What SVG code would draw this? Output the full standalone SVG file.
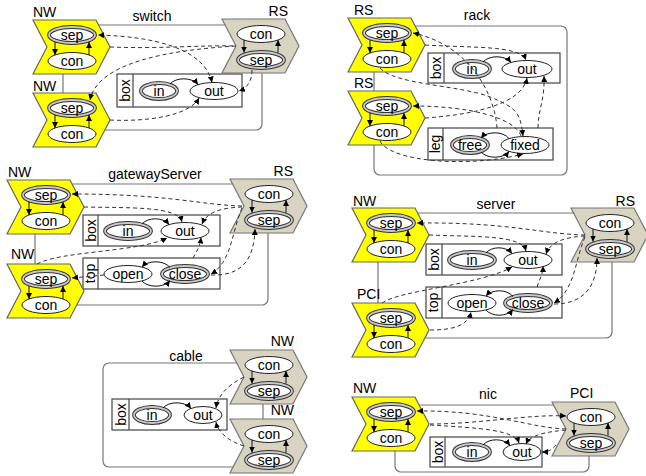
<svg xmlns="http://www.w3.org/2000/svg" xmlns:xlink="http://www.w3.org/1999/xlink" width="646" height="476" viewBox="0 0 646 476">
<style>
text{font-family:"Liberation Sans",Arial,sans-serif;font-size:14px;fill:#000}
.t{text-anchor:middle}
.en{text-anchor:end}
.fr{fill:none;stroke:#777;stroke-width:1.2}
.cy{fill:#ffff00;stroke:#666;stroke-width:1.2}
.ct{fill:#d9d4c1;stroke:#777;stroke-width:1.2}
.e{fill:#fff;stroke:#222;stroke-width:1}
.d1{fill:#fff;stroke:#333;stroke-width:3.8}
.d2{fill:none;stroke:#c8c8c8;stroke-width:1.8}
.bx{fill:#fff;stroke:#444;stroke-width:1.2}
.s{fill:none;stroke:#111;stroke-width:1;marker-end:url(#ah)}
.dsh{fill:none;stroke:#333;stroke-width:1;stroke-dasharray:4 3;marker-end:url(#ah)}
.dn{fill:none;stroke:#333;stroke-width:1;stroke-dasharray:4 3}
.both{marker-start:url(#ah)}
</style>
<defs>
<marker id="ah" viewBox="0 0 10 10" refX="10" refY="5" markerWidth="6" markerHeight="6" markerUnits="userSpaceOnUse" orient="auto-start-reverse"><path d="M0,0L10,5L0,10z" fill="#000"/></marker>
<polygon id="chev" points="0,0 63,0 77,27 63,54 0,54 14,27"/>
<g id="yIn">
<ellipse class="d1" cx="39" cy="15" rx="23" ry="8"/><ellipse class="d2" cx="39" cy="15" rx="23" ry="8"/>
<text class="t" x="39" y="20">sep</text>
<ellipse class="e" cx="39" cy="41" rx="24" ry="8.5"/>
<text class="t" x="39" y="46">con</text>
<path class="s" d="M22,22V35"/><path class="s" d="M56,35V22"/>
</g>
<g id="tIn">
<ellipse class="e" cx="39" cy="15" rx="24" ry="8.5"/>
<text class="t" x="39" y="20">con</text>
<ellipse class="d1" cx="39" cy="41" rx="23" ry="8"/><ellipse class="d2" cx="39" cy="41" rx="23" ry="8"/>
<text class="t" x="39" y="46">sep</text>
<path class="s" d="M22,21V33.5"/><path class="s" d="M56,33.5V21"/>
</g>
</defs>

<!-- panel frames and titles -->
<g id="switch"><rect class="fr" x="63" y="25" width="199" height="105" rx="6"/><text class="t" x="152" y="21">switch</text></g>
<g id="rack"><rect class="fr" x="374" y="26" width="193" height="149" rx="6"/><text class="t" x="477" y="20">rack</text></g>
<g id="gatewayServer"><rect class="fr" x="35" y="184" width="233" height="121" rx="6"/><text class="t" x="155" y="179">gatewayServer</text></g>
<g id="server"><rect class="fr" x="378" y="213" width="234" height="125" rx="6"/><text class="t" x="496" y="209">server</text></g>
<g id="cable"><rect class="fr" x="103" y="363" width="160" height="104" rx="6"/><text class="t" x="186" y="361">cable</text></g>
<g id="nic"><rect class="fr" x="395" y="405" width="194" height="67" rx="6"/><text class="t" x="488" y="399">nic</text></g>

<!-- boxes -->
<g id="switch-box">
<rect class="bx" x="117" y="74" width="125" height="33"/><path class="bx" d="M133,74V107"/>
<text class="t" transform="translate(130,90.5) rotate(-90)">box</text>
<ellipse class="d1" cx="159" cy="91" rx="18" ry="8"/><ellipse class="d2" cx="159" cy="91" rx="18" ry="8"/><text class="t" x="159" y="96">in</text>
<ellipse class="e" cx="214" cy="91" rx="24" ry="8.5"/><text class="t" x="214" y="96">out</text>
<path class="s" d="M170,84C176,77 192,77 198,84.5"/>
</g>
<g id="rack-box">
<rect class="bx" x="428" y="53" width="132" height="30"/><path class="bx" d="M444,53V83"/>
<text class="t" transform="translate(441,68) rotate(-90)">box</text>
<ellipse class="d1" cx="472" cy="69" rx="18" ry="8"/><ellipse class="d2" cx="472" cy="69" rx="18" ry="8"/><text class="t" x="472" y="74">in</text>
<ellipse class="e" cx="527" cy="69" rx="25" ry="8.5"/><text class="t" x="527" y="74">out</text>
<path class="s" d="M483,62C489,55 505,55 511,62.5"/>
</g>
<g id="rack-leg">
<rect class="bx" x="428" y="128" width="125" height="32"/><path class="bx" d="M443,128V160"/>
<text class="t" transform="translate(440,144) rotate(-90)">leg</text>
<ellipse class="d1" cx="470" cy="145" rx="18" ry="8"/><ellipse class="d2" cx="470" cy="145" rx="18" ry="8"/><text class="t" x="470" y="150">free</text>
<ellipse class="e" cx="525" cy="145" rx="24" ry="8.5"/><text class="t" x="525" y="150">fixed</text>
<path class="s" d="M509,138.5C503,131 487,131 481,138"/>
<path class="s" d="M481,152C487,159 503,159 509,151.5"/>
</g>
<g id="gateway-box">
<rect class="bx" x="83" y="215" width="137" height="31"/><path class="bx" d="M98,215V246"/>
<text class="t" transform="translate(95.5,230.5) rotate(-90)">box</text>
<ellipse class="d1" cx="128" cy="231" rx="23" ry="8"/><ellipse class="d2" cx="128" cy="231" rx="23" ry="8"/><text class="t" x="128" y="236">in</text>
<ellipse class="e" cx="185" cy="231" rx="24" ry="8.5"/><text class="t" x="185" y="236">out</text>
<path class="s" d="M142,224C148,217 163,217 169,224.5"/>
</g>
<g id="gateway-top">
<rect class="bx" x="83" y="258" width="137" height="31"/><path class="bx" d="M98,258V289"/>
<text class="t" transform="translate(94.5,273.5) rotate(-90)">top</text>
<ellipse class="e" cx="128" cy="274" rx="24" ry="8.5"/><text class="t" x="128" y="279">open</text>
<ellipse class="d1" cx="185" cy="274" rx="23" ry="8"/><ellipse class="d2" cx="185" cy="274" rx="23" ry="8"/><text class="t" x="185" y="279">close</text>
<path class="s" d="M170,267.5C164,260 148,260 142,267"/>
<path class="s" d="M142,281C148,288 164,288 170,280.5"/>
</g>
<g id="server-box">
<rect class="bx" x="426" y="244" width="136" height="31"/><path class="bx" d="M442,244V275"/>
<text class="t" transform="translate(439,259.5) rotate(-90)">box</text>
<ellipse class="d1" cx="472" cy="260" rx="23" ry="8"/><ellipse class="d2" cx="472" cy="260" rx="23" ry="8"/><text class="t" x="472" y="265">in</text>
<ellipse class="e" cx="528" cy="260" rx="24" ry="8.5"/><text class="t" x="528" y="265">out</text>
<path class="s" d="M486,253C492,246 506,246 512,253.5"/>
</g>
<g id="server-top">
<rect class="bx" x="426" y="287" width="136" height="31"/><path class="bx" d="M442,287V318"/>
<text class="t" transform="translate(438,302.5) rotate(-90)">top</text>
<ellipse class="e" cx="472" cy="303" rx="24" ry="8.5"/><text class="t" x="472" y="308">open</text>
<ellipse class="d1" cx="528" cy="303" rx="23" ry="8"/><ellipse class="d2" cx="528" cy="303" rx="23" ry="8"/><text class="t" x="528" y="308">close</text>
<path class="s" d="M513,296.5C507,289 492,289 486,296"/>
<path class="s" d="M486,310C492,317 507,317 513,309.5"/>
</g>
<g id="cable-box">
<rect class="bx" x="112" y="399" width="115" height="31"/><path class="bx" d="M129,399V430"/>
<text class="t" transform="translate(125.5,414.5) rotate(-90)">box</text>
<ellipse class="d1" cx="152" cy="415" rx="18" ry="8"/><ellipse class="d2" cx="152" cy="415" rx="18" ry="8"/><text class="t" x="152" y="420">in</text>
<ellipse class="e" cx="203" cy="415" rx="19" ry="8.5"/><text class="t" x="203" y="420">out</text>
<path class="s" d="M163,408C169,401 185,401 191,408.5"/>
</g>
<g id="nic-box">
<rect class="bx" x="430" y="437" width="112" height="30"/><path class="bx" d="M445,437V467"/>
<text class="t" transform="translate(442.5,452) rotate(-90)">box</text>
<ellipse class="d1" cx="472" cy="452" rx="18" ry="8"/><ellipse class="d2" cx="472" cy="452" rx="18" ry="8"/><text class="t" x="472" y="457">in</text>
<ellipse class="e" cx="522" cy="452" rx="19" ry="8.5"/><text class="t" x="522" y="457">out</text>
<path class="s" d="M483,445C489,438 504,438 510,445.5"/>
</g>

<!-- port chevrons -->
<g id="switch-NW1" transform="translate(33,20)"><use href="#chev" class="cy"/><use href="#yIn"/><text x="0" y="-3">NW</text></g>
<g id="switch-NW2" transform="translate(33,93)"><use href="#chev" class="cy"/><use href="#yIn"/><text x="0" y="-2">NW</text></g>
<g id="switch-RS" transform="translate(222,19)"><use href="#chev" class="ct"/><use href="#tIn"/><text class="en" x="66" y="-3">RS</text></g>

<g id="rack-RS1" transform="translate(348,18)"><use href="#chev" class="cy"/><use href="#yIn"/><text x="6" y="-3">RS</text></g>
<g id="rack-RS2" transform="translate(348,91)"><use href="#chev" class="cy"/><use href="#yIn"/><text x="6" y="-3">RS</text></g>

<g id="gateway-NW1" transform="translate(7,180)"><use href="#chev" class="cy"/><use href="#yIn"/><text x="1" y="-3">NW</text></g>
<g id="gateway-NW2" transform="translate(7,264)"><use href="#chev" class="cy"/><use href="#yIn"/><text x="4" y="-5">NW</text></g>
<g id="gateway-RS" transform="translate(230,179)"><use href="#chev" class="ct"/><use href="#tIn"/><text class="en" x="63" y="-3">RS</text></g>

<g id="server-NW" transform="translate(352,208)"><use href="#chev" class="cy"/><use href="#yIn"/><text x="1" y="-2">NW</text></g>
<g id="server-PCI" transform="translate(352,303)"><use href="#chev" class="cy"/><use href="#yIn"/><text x="5" y="-4">PCI</text></g>
<g id="server-RS" transform="translate(571,208)"><use href="#chev" class="ct"/><use href="#tIn"/><text class="en" x="64" y="-2">RS</text></g>

<g id="cable-NW1" transform="translate(230,350)"><use href="#chev" class="ct"/><use href="#tIn"/><text class="en" x="64" y="-4">NW</text></g>
<g id="cable-NW2" transform="translate(230,419)"><use href="#chev" class="ct"/><use href="#tIn"/><text class="en" x="64" y="-4">NW</text></g>

<g id="nic-NW" transform="translate(352,397)"><use href="#chev" class="cy"/><use href="#yIn"/><text x="1" y="-4">NW</text></g>
<g id="nic-PCI" transform="translate(552,402)"><use href="#chev" class="ct"/><use href="#tIn"/><text x="18" y="-4">PCI</text></g>

<!-- connectors -->
<g id="connectors">
<path class="dsh both" d="M212,82.5C206,55 170,37 98,35"/>
<path class="dn" d="M110,47C160,49 200,45 236,46"/>
<path class="dsh" d="M236,46C170,50 98,62 90,100"/>
<path class="dsh" d="M110,120C150,122 190,115 199,98"/>
<path class="dsh" d="M252,70C252,80 248,88 239,91"/>

<path class="dsh" d="M497,128C495,95 470,45 413,33"/>
<path class="dsh" d="M425,45C470,48 520,45 526,60"/>
<path class="dsh" d="M380,68C395,85 460,85 490,97S520,115 523,136"/>
<path class="dsh" d="M521,136C515,118 470,106 413,106"/>
<path class="dsh" d="M425,118C470,115 522,105 527,78"/>
<path class="dsh" d="M538,128C538,110 545,100 544,76"/>
<path class="dsh" d="M380,141C390,162 470,168 523,154"/>

<path class="dsh" d="M242,206C200,205 170,194 72,194"/>
<path class="dsh" d="M84,207C130,208 178,206 182,222"/>
<path class="dsh" d="M242,207C220,208 207,212 202,224"/>
<path class="dsh" d="M242,208C232,230 232,262 211,274"/>
<path class="dsh" d="M37,264C60,251 140,252 167,238"/>
<path class="dsh" d="M193,258C196,252 200,248 201,237.5"/>
<path class="dsh" d="M211,275C240,276 254,262 255,229"/>
<path class="dsh" d="M104,275L72,278"/>

<path class="dsh" d="M585,235C540,234 510,222 417,223"/>
<path class="dsh" d="M429,235C480,237 522,235 526,251"/>
<path class="dsh" d="M585,236C565,237 550,242 546,254"/>
<path class="dsh" d="M585,237C575,260 575,290 554,303"/>
<path class="dsh" d="M382,303C400,290 480,285 512,267"/>
<path class="dsh" d="M537,287C539,280 543,275 543,266"/>
<path class="dsh" d="M554,304C585,304 597,285 597,258"/>
<path class="dsh" d="M430,330C455,330 468,325 471,312"/>

<path class="dsh" d="M244,377C228,385 218,395 216,408"/>
<path class="dsh" d="M244,446C228,441 218,432 216,422"/>

<path class="dsh" d="M566,429C530,428 490,410 417,411"/>
<path class="dsh" d="M430,424C480,424 530,414 566,416"/>
<path class="dsh" d="M430,425C480,428 515,430 519,443"/>
<path class="dsh" d="M566,430C545,432 530,435 526,444"/>
<path class="dsh" d="M556,445C552,450 548,452 542,452"/>
</g>
</svg>
